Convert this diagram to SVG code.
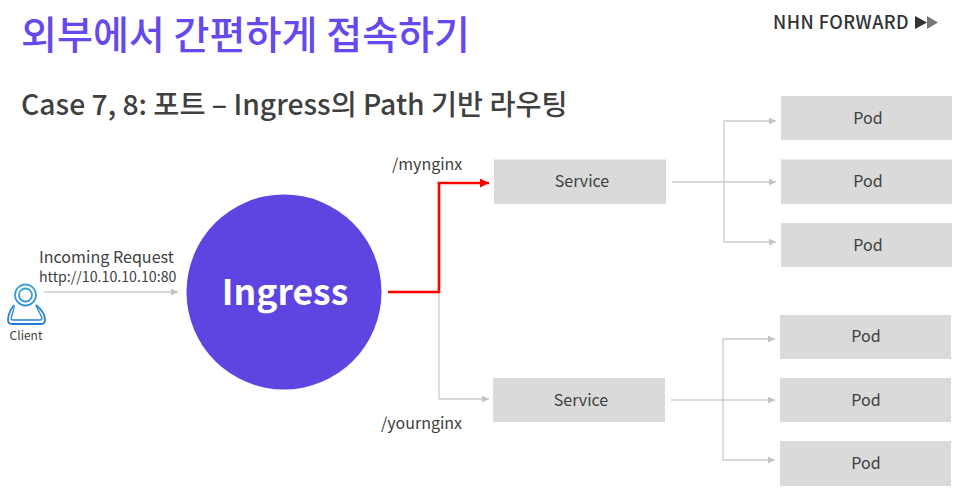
<svg xmlns="http://www.w3.org/2000/svg" width="959" height="504" viewBox="0 0 959 504">
<style>
text{font-family:"Noto Sans CJK KR","Noto Sans",sans-serif;fill:#404040}
.box{fill:#dadada}
.lbl{font-size:16px;text-anchor:middle}
.path{font-size:16px}
.c{fill:none;stroke:#cccccc;stroke-width:1.3}
.r{fill:none;stroke:#f00;stroke-width:2.600}
</style>
<defs>
<marker id="g" markerUnits="userSpaceOnUse" markerWidth="8" markerHeight="7" refX="7" refY="3.5" orient="auto"><path d="M0 0L7 3.500L0 7Z" fill="#c4c4c4"/></marker>
<marker id="rd" markerUnits="userSpaceOnUse" markerWidth="10" markerHeight="9" refX="9" refY="4.5" orient="auto"><path d="M0 0L9 4.500L0 9Z" fill="#f00"/></marker>
<linearGradient id="u" gradientUnits="userSpaceOnUse" x1="26" y1="284" x2="26" y2="325"><stop offset="0" stop-color="#45a8cc"/><stop offset="1" stop-color="#1f78d8"/></linearGradient>
</defs>
<rect width="959" height="504" fill="#fff"/>
<text x="21" y="49" font-size="39.100" font-weight="500" style="fill:#6549ee">외부에서 간편하게 접속하기</text>
<g id="logo"><text x="773" y="29" font-size="18" font-weight="500" letter-spacing="0.300" textLength="136" style="fill:#333">NHN FORWARD</text><path d="M915 16L927 22.500L915 29Z" fill="#333"/><path d="M927 16L938 22.500L927 29Z" fill="#777"/></g>
<text x="21" y="115" font-size="28.300" font-weight="500">Case 7, 8: 포트 – Ingress의 Path 기반 라우팅</text>
<g id="connectors">
<path class="c" d="M44 292H178" marker-end="url(#g)"/>
<path class="c" d="M439 292V399H489" marker-end="url(#g)"/>
<path class="r" d="M388 292H439V183H489" marker-end="url(#rd)"/>
<path class="c" d="M672 182H776" marker-end="url(#g)"/>
<path class="c" d="M724 182V121H776" marker-end="url(#g)"/>
<path class="c" d="M724 182V242H776" marker-end="url(#g)"/>
<path class="c" d="M671 400H775" marker-end="url(#g)"/>
<path class="c" d="M723 400V339H775" marker-end="url(#g)"/>
<path class="c" d="M723 400V460H775" marker-end="url(#g)"/>
</g>
<g id="client" fill="none" stroke="url(#u)">
<circle cx="25.500" cy="295" r="10.500" stroke-width="1.800"/><circle cx="25.500" cy="295" r="6.500" stroke-width="1.800"/>
<path d="M14 305C11 309 8 315 8 320C8 323 9 324 12 324H41C44 324 45 323 45 320C45 315 41 309 36 305" stroke-width="1.800"/>
<path d="M14 305C15 309 11 316 11 319C11 320 12 320 13 320H40C41 320 42 320 42 319C42 316 37 309 36 305" stroke-width="1.300"/>
<text x="26" y="340" font-size="12" text-anchor="middle" stroke="none">Client</text>
</g>
<text x="39" y="263" font-size="16.100">Incoming Request</text>
<text x="39" y="281.500" font-size="14.200">http://10.10.10.10:80</text>
<g id="ingress"><circle cx="284" cy="292" r="97.500" fill="#5e45e2"/><text x="285" y="305" font-size="35.500" font-weight="700" text-anchor="middle" style="fill:#fff">Ingress</text></g>
<text class="path" x="392" y="170">/mynginx</text>
<text class="path" x="381" y="429">/yournginx</text>
<g id="service1"><rect class="box" x="494" y="159.500" width="172" height="44.500"/><text class="lbl" x="582" y="187">Service</text></g>
<g id="service2"><rect class="box" x="493" y="378" width="172" height="44"/><text class="lbl" x="581" y="406">Service</text></g>
<g id="pod1"><rect class="box" x="781" y="96" width="171" height="44"/><text class="lbl" x="868" y="124">Pod</text></g>
<g id="pod2"><rect class="box" x="781" y="159.500" width="171" height="44.500"/><text class="lbl" x="868" y="187">Pod</text></g>
<g id="pod3"><rect class="box" x="781" y="223" width="171" height="44"/><text class="lbl" x="868" y="251">Pod</text></g>
<g id="pod4"><rect class="box" x="780" y="315" width="171" height="44"/><text class="lbl" x="866" y="342">Pod</text></g>
<g id="pod5"><rect class="box" x="780" y="378" width="171" height="44"/><text class="lbl" x="866" y="406">Pod</text></g>
<g id="pod6"><rect class="box" x="780" y="441" width="171" height="45"/><text class="lbl" x="866" y="469">Pod</text></g>
</svg>
